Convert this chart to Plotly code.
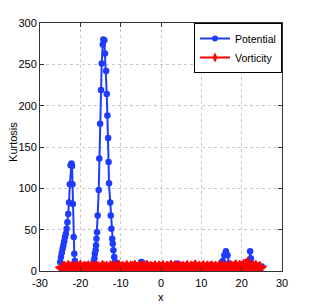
import plotly.graph_objects as go

# Potential (blue) series
pot_x = [-25.0, -24.8, -24.6, -24.4, -24.2, -24.0, -23.8, -23.6, -23.4, -23.2, -23.0, -22.8, -22.6, -22.4,
         -22.2, -22.05, -21.95, -21.85, -21.65, -21.5, -21.35, -21.1,
         -20.8, -20.3, -19.8, -19.3, -18.8, -18.3, -17.8, -17.3, -16.9,
         -16.7, -16.5, -16.4, -16.2, -16.1, -16.0, -15.86, -15.7, -15.44, -15.3, -15.1, -14.86, -14.7,
         -14.45, -14.3, -14.05, -13.9, -13.6, -13.45, -13.3, -13.1, -13.0, -12.9, -12.6, -12.46, -12.3,
         -12.1, -11.96, -11.8, -11.6, -11.4, -11.2,
         -10.9, -10.4, -9.9, -9.4, -8.9, -8.4, -7.9, -7.4, -6.9, -6.4, -5.9,
         -5.5, -5.2, -4.9, -4.6, -4.3, -4.0,
         -3.5, -3.0, -2.5, -2.0, -1.5, -1.0, -0.5, 0.0, 0.5, 1.0, 1.5, 2.0, 2.5,
         3.0, 3.4, 3.8, 4.2, 4.6,
         5.0, 5.5, 6.0, 6.5, 7.0, 7.5, 8.0, 8.5, 9.0, 9.5, 10.0, 10.5, 11.0, 11.5, 12.0, 12.5, 13.0,
         13.5, 14.0, 14.5,
         14.9, 15.3, 15.7, 16.1, 16.5, 16.9, 17.3,
         17.7, 18.2, 18.7, 19.2, 19.7, 20.2, 20.7, 21.2,
         21.6, 21.9, 22.1, 22.3, 22.6,
         23.0, 23.5, 24.0, 24.5, 25.0]
pot_y = [11, 17, 22, 27, 31, 36, 41, 45, 51, 59, 69, 83, 105, 128,
         130, 127, 105, 81, 41, 21, 12, 4,
         2, 1.5, 2, 1.2, 1.8, 1.4, 2, 2.5, 5,
         11, 15, 21, 25, 31, 39, 47, 67, 98, 136, 178, 219, 251,
         274, 280, 279, 263, 242, 214, 188, 161, 132, 106, 83, 67, 51,
         39, 33, 25, 17, 11, 5,
         2, 1.5, 1.8, 1.2, 2, 1.6, 1.4, 1.9, 1.5, 2.2, 3,
         4, 8, 11, 10, 6, 3,
         1.5, 1.8, 1.2, 1.6, 1.4, 1.9, 1.5, 1.7, 1.3, 1.8, 1.6, 1.4, 2,
         3, 6, 9, 8, 4,
         1.5, 1.8, 1.2, 1.6, 1.4, 1.9, 1.5, 1.7, 1.3, 2.5, 1.6, 1.4, 2, 1.5, 1.8, 1.2, 1.6,
         1.4, 1.9, 2.5,
         5, 12, 19, 24, 19, 9, 4,
         2, 1.5, 1.8, 1.2, 2, 1.6, 1.4, 2,
         5, 11, 24, 15, 6,
         2, 2, 3, 4, 5.5]

# Vorticity (red) series
vort_x = [-24.5, -24.0, -23.5, -23.0, -22.5, -22.0, -21.5, -21.0, -20.5, -20.0,
          -19.5, -19.0, -18.5, -18.0, -17.5, -17.0, -16.5, -16.0, -15.5, -15.0,
          -14.5, -14.0, -13.5, -13.0, -12.5, -12.0, -11.5, -11.0, -10.5, -10.0,
          -9.5, -9.0, -8.5, -8.0, -7.5, -7.0, -6.5, -6.0, -5.5, -5.0,
          -4.5, -4.0, -3.5, -3.0, -2.5, -2.0, -1.5, -1.0, -0.5, 0.0,
          0.5, 1.0, 1.5, 2.0, 2.5, 3.0, 3.5, 4.0, 4.5, 5.0,
          5.5, 6.0, 6.5, 7.0, 7.5, 8.0, 8.5, 9.0, 9.5, 10.0,
          10.5, 11.0, 11.5, 12.0, 12.5, 13.0, 13.5, 14.0, 14.5, 15.0,
          15.5, 16.0, 16.5, 17.0, 17.5, 18.0, 18.5, 19.0, 19.5, 20.0,
          20.5, 21.0, 21.5, 22.0, 22.5, 23.0, 23.5, 24.0, 24.5]
vort_y = [2.1, 3.4, 1.8, 4.2, 2.6, 3.1, 1.5, 3.8, 2.4, 4.6, 1.9, 3.2, 2.7, 4.1, 1.6, 3.5, 2.2, 3.9, 2.8, 1.7,
          4.4, 2.5, 3.3, 1.9, 4.0, 2.3, 3.6, 1.8, 4.8, 2.6, 3.0, 2.1, 4.3, 1.7, 3.7, 2.9, 4.5, 2.0, 3.4, 2.4,
          3.9, 1.6, 4.7, 2.7, 3.1, 2.2, 4.0, 1.9, 3.6, 2.5, 4.2, 1.8, 3.3, 2.8, 4.6, 2.1, 3.5, 1.7, 4.1, 2.6,
          3.0, 2.3, 4.4, 1.9, 3.8, 2.7, 4.9, 2.0, 3.2, 2.4, 4.3, 1.8, 3.7, 2.5, 4.0, 2.2, 3.4, 1.9, 4.5, 2.8,
          3.1, 2.1, 4.2, 1.7, 3.6, 2.6, 5.2, 2.3, 4.5, 2.9, 5.8, 6.0, 8.5, 2.4, 4.1, 2.7, 4.4, 2.2, 3.0]

series_names = ["Potential", "Vorticity"]
x_ticks = [-30, -20, -10, 0, 10, 20, 30]
y_ticks = [0, 50, 100, 150, 200, 250, 300]

BLUE = "rgb(30,60,255)"
RED = "rgb(255,0,0)"
FONT = "Liberation Sans, Arial, sans-serif"

fig = go.Figure()
fig.add_trace(go.Scatter(x=pot_x, y=pot_y, mode="lines+markers", name=series_names[0],
                         showlegend=False,
                         line=dict(color=BLUE, width=2),
                         marker=dict(color=BLUE, size=6.5, symbol="circle")))
fig.add_trace(go.Scatter(x=vort_x, y=vort_y, mode="lines+markers", name=series_names[1],
                         showlegend=False,
                         line=dict(color=RED, width=2),
                         marker=dict(color=RED, size=10, symbol="star",
                                     line=dict(color=RED, width=1.5))))
# legend entries with small sample markers
fig.add_trace(go.Scatter(x=[None], y=[None], mode="lines+markers", name=series_names[0],
                         line=dict(color=BLUE, width=2),
                         marker=dict(color=BLUE, size=6, symbol="circle")))
fig.add_trace(go.Scatter(x=[None], y=[None], mode="lines+markers", name=series_names[1],
                         line=dict(color=RED, width=2),
                         marker=dict(color=RED, size=7, symbol="diamond-tall")))

axis_common = dict(showline=True, linecolor="#333333", linewidth=1, mirror="allticks",
                   ticks="inside", ticklen=4, tickcolor="#333333",
                   showgrid=True, gridcolor="#c8c8c8", griddash="dot", gridwidth=1,
                   zeroline=False, automargin=False,
                   tickfont=dict(family=FONT, size=11, color="black"))

fig.update_xaxes(range=[-30, 30], tickvals=x_ticks, ticktext=[str(v) for v in x_ticks],
                 ticklabelstandoff=2, **axis_common)
fig.update_yaxes(range=[0, 300], tickvals=y_ticks, ticktext=[str(v) for v in y_ticks], **axis_common)

fig.add_annotation(text="Kurtosis", xref="paper", yref="paper", x=-0.112, y=0.52,
                   textangle=-90, showarrow=False, xanchor="center", yanchor="middle",
                   font=dict(family=FONT, size=11, color="black"))
fig.add_annotation(text="x", xref="paper", yref="paper", x=0.5, y=-0.105,
                   showarrow=False, xanchor="center", yanchor="middle",
                   font=dict(family=FONT, size=11, color="black"))

fig.update_layout(
    width=311, height=305,
    margin=dict(l=32, r=37, t=15, b=42, autoexpand=False),
    paper_bgcolor="white", plot_bgcolor="white",
    font=dict(family=FONT, size=11, color="black"),
    legend=dict(x=1, y=1, xanchor="right", yanchor="top",
                bgcolor="white", bordercolor="black", borderwidth=1,
                font=dict(family=FONT, size=10.5, color="black"),
                itemwidth=30, tracegroupgap=0),
    showlegend=True,
)

fig.write_html("out.html")
